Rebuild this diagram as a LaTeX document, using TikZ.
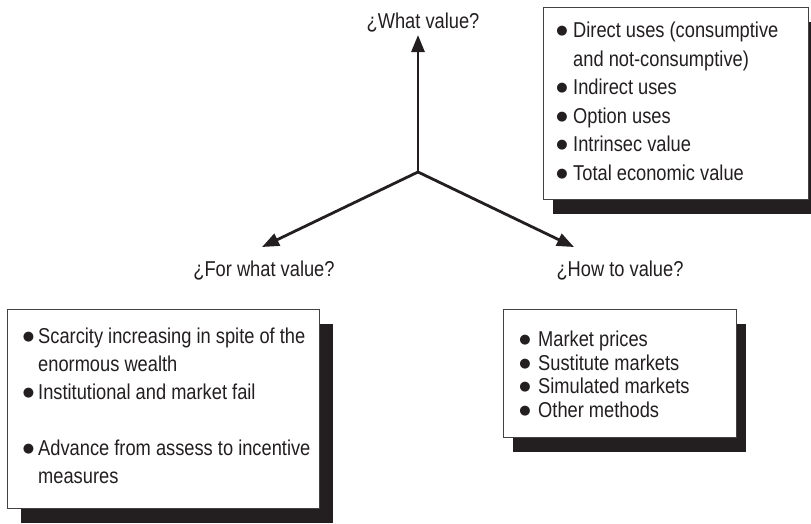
\documentclass[tikz,border=0pt]{standalone}
\usepackage{fontspec}
\setmainfont[FakeStretch=0.85]{Liberation Sans}
\newfontfamily\bulfont{DejaVu Sans}
\usetikzlibrary{arrows.meta}
\definecolor{ink}{RGB}{35,31,32}
\begin{document}
\begin{tikzpicture}[x=1pt,y=-1pt,
  txt/.style={inner sep=0pt, anchor=base west, text=ink, font=\fontsize{21.5}{26}\selectfont},
  bul/.style={inner sep=0pt, anchor=center, text=ink, font=\bulfont\fontsize{13}{14}\selectfont},
  lbl/.style={inner sep=0pt, anchor=base, text=ink, font=\fontsize{21.5}{26}\selectfont},
  panel/.style={draw=ink!85, line width=1.2pt, fill=white, anchor=north west, inner sep=0pt},
  shadowbox/.style={fill=ink, draw=none, anchor=north west, inner sep=0pt},
  conn/.style={draw=ink, line width=2.8pt, -{Triangle[length=17pt,width=13pt]}}
]
\useasboundingbox (0,0) rectangle (811,523);

% shadows
\node[shadowbox, minimum width=265pt, minimum height=192pt] (s1) at (553,22) {};
\node[shadowbox, minimum width=312pt, minimum height=199pt] (s2) at (21,324) {};
\node[shadowbox, minimum width=233pt, minimum height=128pt] (s3) at (513,324) {};

% panels
\node[panel, minimum width=265pt, minimum height=192pt] (b1) at (543,7) {};
\node[panel, minimum width=312pt, minimum height=199pt] (b2) at (7,309) {};
\node[panel, minimum width=233pt, minimum height=128pt] (b3) at (503,309) {};

% connectors
\coordinate (hub) at (418,172);
\node[lbl] (qwhat) at (423,28) {¿What value?};
\node[lbl] (qfor) at (264,276) {¿For what value?};
\node[lbl] (qhow) at (620,276) {¿How to value?};
\coordinate (tipw) at (418,35);
\coordinate (tipf) at (262,247);
\coordinate (tiph) at (574,247);
\draw[conn] (hub) -- (tipw);
\draw[conn] (hub) -- (tipf);
\draw[conn] (hub) -- (tiph);

% box 1 text
\node[bul] (p1a) at (562,31) {●};
\node[txt] (t1a) at (573,37) {Direct uses (consumptive};
\node[txt] (t1b) at (573,66) {and not-consumptive)};
\node[bul] (p1c) at (562,88.5) {●};
\node[txt] (t1c) at (573,94.5) {Indirect uses};
\node[bul] (p1d) at (562,117) {●};
\node[txt] (t1d) at (573,123) {Option uses};
\node[bul] (p1e) at (562,145.5) {●};
\node[txt] (t1e) at (573,151.5) {Intrinsec value};
\node[bul] (p1f) at (562,174) {●};
\node[txt] (t1f) at (573,180) {Total economic value};

% box 2 text
\node[bul] (p2a) at (28.5,337) {●};
\node[txt] (t2a) at (38,343) {Scarcity increasing in spite of the};
\node[txt] (t2b) at (38,371) {enormous wealth};
\node[bul] (p2c) at (28.5,393) {●};
\node[txt] (t2c) at (38,399) {Institutional and market fail};
\node[bul] (p2d) at (28.5,449) {●};
\node[txt] (t2d) at (38,455) {Advance from assess to incentive};
\node[txt] (t2e) at (38,483) {measures};

% box 3 text
\node[bul] (p3a) at (525,340) {●};
\node[txt] (t3a) at (538,346) {Market prices};
\node[bul] (p3b) at (525,364) {●};
\node[txt] (t3b) at (538,370) {Sustitute markets};
\node[bul] (p3c) at (525,387) {●};
\node[txt] (t3c) at (538,393) {Simulated markets};
\node[bul] (p3d) at (525,411) {●};
\node[txt] (t3d) at (538,417) {Other methods};
\end{tikzpicture}
\end{document}
